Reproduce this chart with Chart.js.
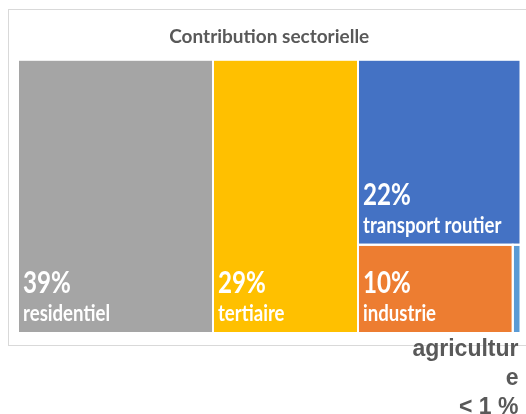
<!DOCTYPE html>
<html>
<head>
<meta charset="utf-8">
<script src="https://cdn.jsdelivr.net/npm/chart.js@4.4.1/dist/chart.umd.min.js"></script>
<style>
html,body{margin:0;padding:0;background:#fff;}
canvas{display:block;}
</style>
</head>
<body>
<canvas id="c" width="526" height="414"></canvas>
<script>
// ---- data ----
const categories = ['residentiel', 'tertiaire', 'transport routier', 'industrie', 'agriculture'];
const values = [39, 29, 22, 10, 0.5];
const valueLabels = ['39%', '29%', '22%', '10%', '< 1 %'];
const insideLabel = [true, true, true, true, false];
const titleText = 'Contribution sectorielle';

// ---- styles ----
const colors = ['#A5A5A5', '#FFC000', '#4472C4', '#ED7D31', '#5B9BD5'];
const AREA_ASPECT = 1.84; // plot area width / height

function worst(row, side) {
  const s = row.reduce((a, b) => a + b, 0);
  const mx = Math.max(...row), mn = Math.min(...row);
  return Math.max(side * side * mx / (s * s), (s * s) / (side * side * mn));
}
function squarify(vals, x, y, w, h) {
  const total = vals.reduce((a, b) => a + b, 0);
  const k = w * h / total;
  const areas = vals.map(v => v * k);
  const rects = [];
  let i = 0;
  while (i < areas.length) {
    const side = Math.min(w, h);
    let row = [areas[i]];
    let j = i + 1;
    while (j < areas.length) {
      const next = row.concat(areas[j]);
      if (worst(next, side) <= worst(row, side)) { row = next; j++; } else break;
    }
    const sum = row.reduce((a, b) => a + b, 0);
    const thick = sum / side;
    let off = 0;
    const vertical = w >= h;
    row.forEach(a => {
      const len = a / thick;
      if (vertical) rects.push({ x0: x, x1: x + thick, y0: y + off, y1: y + off + len });
      else rects.push({ x0: x + off, x1: x + off + len, y0: y, y1: y + thick });
      off += len;
    });
    if (vertical) { x += thick; w -= thick; } else { y += thick; h -= thick; }
    i = j;
  }
  return rects;
}

const rects = squarify(values, 0, 0, AREA_ASPECT, 1);

const datasets = rects.map((r, i) => ({
  label: categories[i],
  data: [{ x: r.x0, y: r.y0 }, { x: r.x1, y: r.y0 }],
  fill: { value: r.y1 },
  backgroundColor: colors[i],
  borderColor: colors[i],
  borderWidth: 0,
  pointRadius: 0,
  tension: 0
}));

function scaledText(ctx, text, x, y, sx) {
  ctx.save();
  ctx.translate(x, y);
  ctx.scale(sx, 1);
  ctx.fillText(text, 0, 0);
  ctx.restore();
}

function charWrap(ctx, text, maxW) {
  const lines = [];
  let cur = '';
  for (const ch of text) {
    if (ctx.measureText(cur + ch).width > maxW && cur) { lines.push(cur); cur = ch; }
    else cur += ch;
  }
  if (cur) lines.push(cur);
  return lines;
}

const framePlugin = {
  id: 'frame',
  beforeDraw(chart) {
    const ctx = chart.ctx;
    ctx.save();
    ctx.fillStyle = '#fff';
    ctx.fillRect(0, 0, chart.width, chart.height);
    ctx.strokeStyle = '#D9D9D9';
    ctx.lineWidth = 1;
    ctx.strokeRect(8.5, 9.5, chart.width + 10, 336);
    ctx.restore();
  }
};

const treemapLabels = {
  id: 'treemapLabels',
  afterDatasetsDraw(chart) {
    const ctx = chart.ctx;
    const xs = chart.scales.x, ys = chart.scales.y;
    ctx.save();
    // white separators
    ctx.strokeStyle = '#fff';
    ctx.lineWidth = 2;
    rects.forEach(r => {
      const px0 = xs.getPixelForValue(r.x0), px1 = xs.getPixelForValue(r.x1);
      const py0 = ys.getPixelForValue(r.y0), py1 = ys.getPixelForValue(r.y1);
      ctx.strokeRect(px0, py0, px1 - px0, py1 - py0);
    });
    // labels
    ctx.fillStyle = '#fff';
    ctx.textAlign = 'left';
    ctx.textBaseline = 'alphabetic';
    rects.forEach((r, i) => {
      if (!insideLabel[i]) return;
      const px0 = xs.getPixelForValue(r.x0);
      const pyb = ys.getPixelForValue(r.y1);
      ctx.font = 'bold 31px Lato';
      scaledText(ctx, valueLabels[i], px0 + 5, pyb - 40, 0.78);
      ctx.font = 'bold 23px Lato';
      scaledText(ctx, categories[i], px0 + 5, pyb - 12, 0.81);
    });
    // outside label(s)
    ctx.fillStyle = '#595959';
    ctx.textAlign = 'right';
    ctx.font = 'bold 23px "Liberation Sans"';
    rects.forEach((r, i) => {
      if (insideLabel[i]) return;
      const px1 = xs.getPixelForValue(r.x1);
      const lines = charWrap(ctx, categories[i], 112).concat([valueLabels[i]]);
      lines.forEach((ln, k) => ctx.fillText(ln, px1 - 2, 356 + k * 29));
    });
    ctx.restore();
  }
};

function draw() {
  new Chart(document.getElementById('c'), {
    type: 'line',
    data: { datasets },
    options: {
      responsive: false,
      animation: false,
      devicePixelRatio: 1,
      layout: { padding: { left: 18, right: 5.5, top: 0, bottom: 81 } },
      scales: {
        x: { type: 'linear', min: 0, max: AREA_ASPECT, display: false },
        y: { type: 'linear', min: 0, max: 1, reverse: true, display: false }
      },
      plugins: {
        legend: { display: false },
        tooltip: { enabled: false },
        title: {
          display: true,
          text: titleText,
          color: '#595959',
          font: { family: 'Lato', size: 19, weight: 'bold', lineHeight: 1.2 },
          padding: { top: 25, bottom: 12 }
        }
      }
    },
    plugins: [framePlugin, treemapLabels]
  });
}
if (document.fonts && document.fonts.load) {
  Promise.all([
    document.fonts.load('bold 20px Lato'),
    document.fonts.load('bold 20px "Liberation Sans"')
  ]).then(draw, draw);
} else draw();
</script>
</body>
</html>
